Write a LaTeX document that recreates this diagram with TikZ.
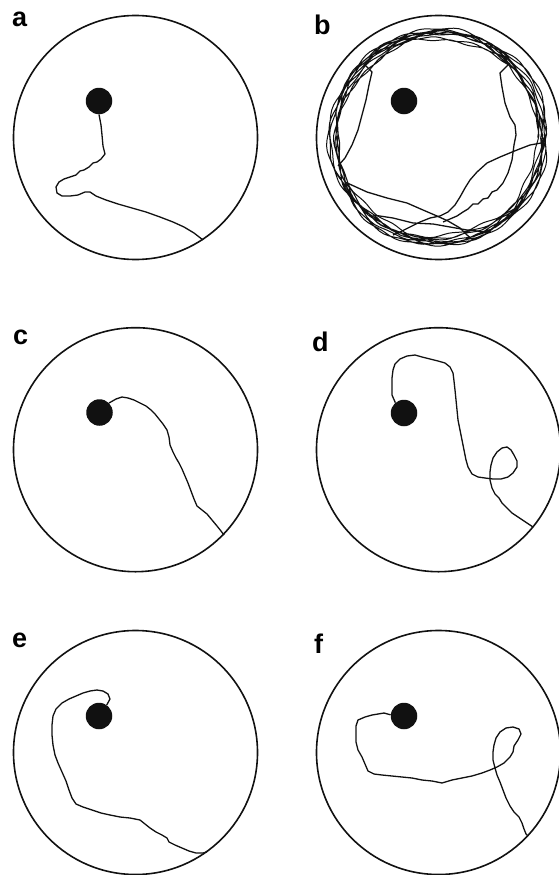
\documentclass[tikz,border=0pt]{standalone}
\usepackage{fontspec}
\setmainfont{Liberation Sans}
\usetikzlibrary{positioning,calc}
\definecolor{ctinta}{HTML}{111111}
\tikzset{
  piscina/.style={draw=ctinta,circle,minimum size=244pt,inner sep=0pt,line width=1.6pt},
  plataforma/.style={fill=ctinta,circle,minimum size=26.5pt,inner sep=0pt},
  rastro/.style={draw=ctinta,line width=1.3pt,line join=round},
  letra/.style={font=\fontsize{27}{27}\selectfont\bfseries,anchor=base west,inner sep=0pt},
}

\begin{document}
\begin{tikzpicture}[x=1pt,y=-1pt,
  declare function={rb(\t)=104+3*sin(0.41*\t)+3*sin(2.3*\t+30)+1.5*sin(4.7*\t)
                     +1.1*sin(17*mod(\t,360)+71*floor(\t/360));}]
\useasboundingbox (0,0) rectangle (558,875);

% ---------------- piscinas y plataformas ----------------
\node[piscina] (pa) at (135.5,137.5) {};
\node[piscina] (pb) at (438.5,137.5) {};
\node[piscina] (pc) at (135.5,449.7) {};
\node[piscina] (pd) at (438.5,449.7) {};
\node[piscina] (pe) at (135.5,752.5) {};
\node[piscina] (pf) at (438.5,752.5) {};

\node[plataforma] (qa) at (99,101) {};
\node[plataforma] (qb) at (404,101) {};
\node[plataforma] (qc) at (99.5,412.5) {};
\node[plataforma] (qd) at (404,413) {};
\node[plataforma] (qe) at (99,716) {};
\node[plataforma] (qf) at (404,716) {};

\node[letra] (la) at (12,27) {a};
\node[letra] (lb) at (314,35) {b};
\node[letra] (lc) at (13,344) {c};
\node[letra] (ld) at (312,351) {d};
\node[letra] (le) at (12,647) {e};
\node[letra] (lf) at (314,653) {f};

% ---------------- a ----------------
\draw[rastro] (qa.south) -- (101,125) -- (102,135) -- (103,146) -- (105,154) -- (101,159)
  -- (97,162) -- (93,163) -- (89,167) -- (84,170) -- (80,171) -- (76,175) -- (70,177)
  -- (64,179) -- (59,182) -- (56,187) -- (57,193) -- (62,196) -- (70,196) -- (78,195)
  -- (85,192) -- (90,192) -- (96,196) -- (106,200) -- (118,204) -- (132,208) -- (146,212)
  -- (160,217) -- (173,222) -- (184,227) -- (194,233) -- (203,240);

% ---------------- b ----------------
\begin{scope}[shift={(pb.center)}]
  \draw[rastro,line width=1pt] plot[domain=0:3240,samples=1200]
    ({rb(\x)*cos(\x)},{rb(\x)*sin(\x)});
\end{scope}
\draw[rastro] (364,64) -- (372,72) -- (369,85) -- (366,100) -- (362,115) -- (358,130)
  -- (352,145) -- (345,158) -- (338,166);
\draw[rastro] (510,63) -- (500,73) -- (502,87) -- (505,103) -- (510,117) -- (515,125)
  -- (516,135) -- (514,145) -- (512,160) -- (508,173) -- (503,183) -- (497,190)
  -- (492,192) -- (488,198) -- (483,199) -- (478,204) -- (473,204) -- (468,209)
  -- (463,212) -- (457,216) -- (450,219) -- (443,222);
\draw[rastro] (541,143) -- (530,145) -- (517,150) -- (500,157) -- (487,163) -- (477,172)
  -- (470,180) -- (465,188) -- (460,197) -- (455,205) -- (448,212) -- (440,216)
  -- (430,218) -- (420,222) -- (410,227) -- (400,232) -- (393,235);
\draw[rastro] (345,182) -- (367,192) -- (387,198) -- (407,203) -- (423,210) -- (437,216)
  -- (448,221) -- (460,228) -- (467,235) -- (473,240);
\draw[rastro] (373,215) -- (393,218) -- (413,223) -- (433,224) -- (450,227) -- (467,230)
  -- (487,232);

% ---------------- c ----------------
\draw[rastro] (qc.45) -- (116,399) -- (122,397) -- (128,398) -- (134,400) -- (140,403)
  -- (146,406) -- (151,410) -- (155,414) -- (159,419) -- (163,424) -- (167,430)
  -- (169,437) -- (170,445) -- (173,452) -- (176,458) -- (179,463) -- (182,469)
  -- (185,476) -- (188,483) -- (191,491) -- (194,499) -- (197,506) -- (202,510)
  -- (207,514) -- (212,520) -- (217,526) -- (221,531) -- (224,535);

% ---------------- d ----------------
\draw[rastro] (qd.130) -- (392,395) -- (392,387) -- (392,378) -- (393,370) -- (395,364)
  -- (400,359) -- (407,356) -- (415,355) -- (422,357) -- (430,359) -- (438,361)
  -- (445,363) -- (450,367) -- (453,373) -- (454,381) -- (455,390) -- (456,400)
  -- (457,410) -- (458,420) -- (460,430) -- (462,440) -- (464,450) -- (466,460)
  -- (468,467) -- (472,474) -- (478,477) -- (485,478) -- (493,479) -- (501,479)
  -- (508,477) -- (513,473) -- (517,467) -- (517,461) -- (514,455) -- (511,450)
  -- (507,447) -- (502,448) -- (497,452) -- (493,458) -- (491,465) -- (490,472)
  -- (490,480) -- (492,488) -- (495,494) -- (499,498) -- (502,503) -- (507,508)
  -- (512,513) -- (518,517) -- (524,521) -- (530,525) -- (533,527);

% ---------------- e ----------------
\draw[rastro] (qe.55) -- (110,699) -- (108,694) -- (103,691) -- (97,690) -- (90,691)
  -- (83,693) -- (76,696) -- (69,699) -- (62,703) -- (56,709) -- (53,716) -- (52,725)
  -- (52,735) -- (53,745) -- (55,755) -- (58,763) -- (62,772) -- (66,781) -- (69,790)
  -- (72,798) -- (76,804) -- (83,807) -- (92,810) -- (101,813) -- (110,815) -- (120,817)
  -- (130,818) -- (140,820) -- (145,824) -- (150,828) -- (156,832) -- (162,835)
  -- (167,838) -- (169,842) -- (175,845) -- (182,848) -- (189,851) -- (196,853)
  -- (203,853) -- (207,852);

% ---------------- f ----------------
\draw[rastro] (qf.175) -- (384,713) -- (378,714) -- (372,715) -- (365,717) -- (358,720)
  -- (356,726) -- (356,734) -- (356,742) -- (358,750) -- (362,757) -- (365,764)
  -- (368,771) -- (374,774) -- (382,775) -- (392,776) -- (402,777) -- (412,778)
  -- (422,780) -- (432,781) -- (442,783) -- (452,780) -- (462,778) -- (472,776)
  -- (482,773) -- (490,770) -- (497,767) -- (504,763) -- (510,757) -- (513,752)
  -- (514,746) -- (518,740) -- (521,734) -- (519,729) -- (513,727) -- (506,728)
  -- (500,732) -- (496,738) -- (494,745) -- (493,752) -- (493,760) -- (495,768)
  -- (497,775) -- (500,782) -- (503,790) -- (506,798) -- (510,806) -- (514,812)
  -- (519,817) -- (522,823) -- (524,829) -- (526,834) -- (528,836);

\end{tikzpicture}
\end{document}
